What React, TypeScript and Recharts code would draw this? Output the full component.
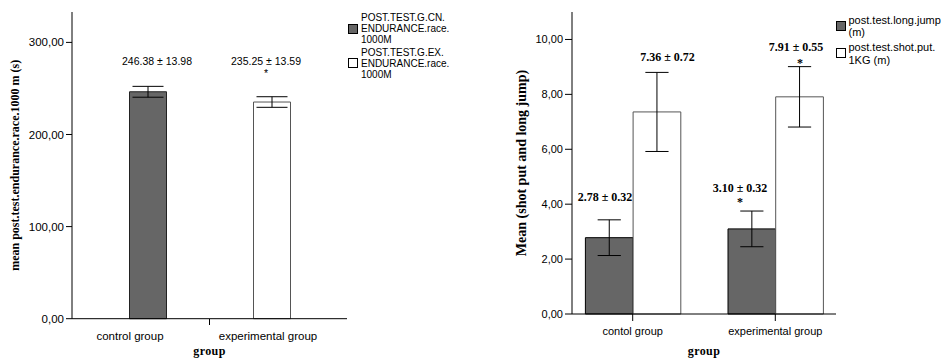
import React from 'react';
import { BarChart, Bar, XAxis, YAxis, ErrorBar, Cell, Legend, ReferenceDot } from 'recharts';

// ---------- data: left chart (1000 m endurance race) ----------
const enduranceGroups = ['control group', 'experimental group'];
const enduranceMeans = [246.38, 235.25];
const enduranceSDs = [13.98, 13.59];
const enduranceErrors = [5.9, 5.75];
const enduranceSignificant = [false, true];
const enduranceSeries = ['POST.TEST.G.CN.\nENDURANCE.race.\n1000M', 'POST.TEST.G.EX.\nENDURANCE.race.\n1000M'];
const enduranceTicks = [0, 100, 200, 300];
const enduranceYLabel = 'mean post.test.endurance.race.1000 m (s)';

// ---------- data: right chart (long jump & shot put) ----------
const jumpGroups = ['contol group', 'experimental group'];
const longJumpMeans = [2.78, 3.1];
const longJumpSDs = [0.32, 0.32];
const longJumpErrors = [0.65, 0.65];
const longJumpSignificant = [false, true];
const shotPutMeans = [7.36, 7.91];
const shotPutSDs = [0.72, 0.55];
const shotPutErrors = [1.44, 1.1];
const shotPutSignificant = [false, true];
const jumpSeries = ['post.test.long.jump\n(m)', 'post.test.shot.put.\n1KG (m)'];
const jumpTicks = [0, 2, 4, 6, 8, 10];
const jumpYLabel = 'Mean (shot put and long jump)';
const xTitle = 'group';

// ---------- styling ----------
const SANS = "'Liberation Sans', Arial, Helvetica, sans-serif";
const SERIF = "'Liberation Serif', 'Times New Roman', Times, serif";
const DARK = '#666666';
const WHITE = '#ffffff';
const WHITE_STROKE = '#555555';

// label anchor levels (data units) and horizontal nudges (px)
const enduranceLabelLevel = 280;
const enduranceStarLevel = 269.5;
const enduranceLabelDx = [9.5, -5.5];
const enduranceTickDx = [-17.5, -3.5];
const longJumpLabelLevel = [4.27, 4.6];
const longJumpStarLevel = 4.15;
const longJumpLabelDx = [-27.7, -35.3];
const shotPutLabelLevel = [9.39, 9.74];
const shotPutStarLevel = 9.2;
const shotPutLabelDx = [34.8, 20.7];
const shotPutStarDx = 24.7;

const fmtComma = (v: number) => v.toFixed(2).replace('.', ',');
const pm = (m: number, s: number) => `${m.toFixed(2)} ± ${s.toFixed(2)}`;

const enduranceData = enduranceGroups.map((g, i) => ({
  group: g,
  mean: enduranceMeans[i],
  err: enduranceErrors[i],
}));

const jumpData = jumpGroups.map((g, i) => ({
  group: g,
  longJump: longJumpMeans[i],
  longJumpErr: longJumpErrors[i],
  shotPut: shotPutMeans[i],
  shotPutErr: shotPutErrors[i],
}));

function makeAnnot(text: string, dx: number, fontSize: number, family: string, bold: boolean, baseShift: number) {
  return (props: any) => {
    const vb = props.viewBox || {};
    const cx = (vb.x ?? 0) + (vb.width ?? 0) / 2 + dx;
    const cy = (vb.y ?? 0) + (vb.height ?? 0) / 2;
    return (
      <text
        x={cx}
        y={cy + baseShift * fontSize}
        textAnchor="middle"
        fontSize={fontSize}
        fontFamily={family}
        fontWeight={bold ? 700 : 400}
        fill="#000"
      >
        {text}
      </text>
    );
  };
}

const LeftTick = (props: any) => {
  const { x, y, payload } = props;
  const i = props.index ?? payload?.index ?? 0;
  return (
    <g>
      <text
        x={x + enduranceTickDx[i]}
        y={y + 12.8}
        textAnchor="middle"
        fontSize={11.5}
        fontFamily={SANS}
        fill="#000"
      >
        {payload.value}
      </text>
      {i === 0 && <line x1={x + 62} x2={x + 62} y1={y - 7.7} y2={y - 1.7} stroke="#000" strokeWidth={1} />}
    </g>
  );
};

function EnduranceLegend() {
  const fills = [DARK, WHITE];
  const starts = [13, 47.5];
  const squares = [16.5, 50.5];
  return (
    <svg width={130} height={82} style={{ display: 'block' }}>
      {enduranceSeries.map((name, k) => (
        <g key={k}>
          <rect x={3.5} y={squares[k]} width={9} height={9} fill={fills[k]} stroke="#000" strokeWidth={1} />
          {name.split('\n').map((ln, j) => (
            <text key={j} x={16} y={starts[k] + j * 11.2} fontSize={10} fontFamily={SANS} fill="#000">
              {ln}
            </text>
          ))}
        </g>
      ))}
    </svg>
  );
}

function JumpLegend() {
  const fills = [DARK, WHITE];
  const starts = [15.5, 43];
  const squares = [13.5, 40.5];
  return (
    <svg width={115} height={70} style={{ display: 'block' }}>
      {jumpSeries.map((name, k) => (
        <g key={k}>
          <rect x={3.5} y={squares[k]} width={9} height={9} fill={fills[k]} stroke="#000" strokeWidth={1} />
          {name.split('\n').map((ln, j) => (
            <text key={j} x={15.5} y={starts[k] + j * 12.5} fontSize={11} fontFamily={SANS} fill="#000">
              {ln}
            </text>
          ))}
        </g>
      ))}
    </svg>
  );
}

function EnduranceChart() {
  return (
    <BarChart width={474} height={358} data={enduranceData} margin={{ top: 12, right: 127, left: 0, bottom: 0 }}>
      <XAxis
        dataKey="group"
        interval={0}
        padding={{ left: 13.5, right: 13.5 }}
        height={39.3}
        axisLine={{ stroke: '#000', strokeWidth: 1 }}
        tickLine={false}
        tick={<LeftTick />}
        label={{
          value: xTitle,
          position: 'insideBottom',
          offset: 3,
          style: { fontFamily: SERIF, fontWeight: 700, fontSize: 12, fill: '#000', letterSpacing: 0.4 },
        }}
      />
      <YAxis
        domain={[0, 333]}
        ticks={enduranceTicks}
        width={72}
        tickFormatter={fmtComma}
        tickSize={6}
        tickMargin={2}
        axisLine={{ stroke: '#000', strokeWidth: 1 }}
        tickLine={{ stroke: '#000', strokeWidth: 1 }}
        tick={{ fontSize: 11.5, fontFamily: SANS, fill: '#000' }}
        label={{
          value: enduranceYLabel,
          angle: -90,
          position: 'insideLeft',
          offset: 15,
          style: { textAnchor: 'middle', fontFamily: SERIF, fontWeight: 700, fontSize: 12, fill: '#000' },
        }}
      />
      <Bar dataKey="mean" barSize={37} isAnimationActive={false} strokeWidth={1}>
        {enduranceData.map((_, i) => (
          <Cell key={i} fill={i === 0 ? DARK : WHITE} stroke={i === 0 ? '#222' : WHITE_STROKE} />
        ))}
        <ErrorBar dataKey="err" width={15.5} stroke="#000" strokeWidth={1} />
      </Bar>
      {enduranceGroups.map((g, i) => (
        <ReferenceDot
          key={'a' + i}
          x={g}
          y={enduranceLabelLevel}
          r={0}
          fill="none"
          stroke="none"
          label={{ content: makeAnnot(pm(enduranceMeans[i], enduranceSDs[i]), enduranceLabelDx[i], 10.5, SANS, false, 0.36) }}
        />
      ))}
      {enduranceGroups.map((g, i) =>
        enduranceSignificant[i] ? (
          <ReferenceDot
            key={'s' + i}
            x={g}
            y={enduranceStarLevel}
            r={0}
            fill="none"
            stroke="none"
            label={{ content: makeAnnot('*', enduranceLabelDx[i], 10.5, SANS, false, 0.58) }}
          />
        ) : null
      )}
      <Legend
        layout="vertical"
        align="center"
        verticalAlign="middle"
        wrapperStyle={{ left: 345, top: 8, width: 130, height: 82 }}
        content={() => <EnduranceLegend />}
      />
    </BarChart>
  );
}

function JumpChart() {
  return (
    <BarChart
      width={474}
      height={358}
      data={jumpData}
      barGap={0}
      margin={{ top: 12, right: 112, left: 0, bottom: 0 }}
    >
      <XAxis
        dataKey="group"
        interval={0}
        padding={{ left: -10.6, right: -10.6 }}
        height={44}
        axisLine={{ stroke: '#000', strokeWidth: 1 }}
        tickLine={{ stroke: '#000', strokeWidth: 1 }}
        tickSize={7}
        tickMargin={6}
        tick={{ fontSize: 11, fontFamily: SANS, fill: '#000' }}
        label={{
          value: xTitle,
          position: 'insideBottom',
          offset: 3,
          style: { fontFamily: SERIF, fontWeight: 700, fontSize: 12, fill: '#000', letterSpacing: 0.4 },
        }}
      />
      <YAxis
        domain={[0, 11]}
        ticks={jumpTicks}
        width={98}
        tickFormatter={fmtComma}
        tickSize={7}
        tickMargin={2}
        axisLine={{ stroke: '#000', strokeWidth: 1 }}
        tickLine={{ stroke: '#000', strokeWidth: 1 }}
        tick={{ fontSize: 11, fontFamily: SANS, fill: '#000' }}
        label={{
          value: jumpYLabel,
          angle: -90,
          position: 'insideLeft',
          offset: 47,
          style: { textAnchor: 'middle', fontFamily: SERIF, fontWeight: 700, fontSize: 14, fill: '#000' },
        }}
      />
      <Bar dataKey="longJump" barSize={47.7} fill={DARK} stroke="#000" strokeWidth={1} isAnimationActive={false}>
        <ErrorBar dataKey="longJumpErr" width={11.6} stroke="#000" strokeWidth={1} />
      </Bar>
      <Bar dataKey="shotPut" barSize={47.7} fill={WHITE} stroke={WHITE_STROKE} strokeWidth={1} isAnimationActive={false}>
        <ErrorBar dataKey="shotPutErr" width={11.6} stroke="#000" strokeWidth={1} />
      </Bar>
      {jumpGroups.map((g, i) => (
        <ReferenceDot
          key={'lj' + i}
          x={g}
          y={longJumpLabelLevel[i]}
          r={0}
          fill="none"
          stroke="none"
          label={{ content: makeAnnot(pm(longJumpMeans[i], longJumpSDs[i]), longJumpLabelDx[i], 12, SERIF, true, 0.36) }}
        />
      ))}
      {jumpGroups.map((g, i) => (
        <ReferenceDot
          key={'sp' + i}
          x={g}
          y={shotPutLabelLevel[i]}
          r={0}
          fill="none"
          stroke="none"
          label={{ content: makeAnnot(pm(shotPutMeans[i], shotPutSDs[i]), shotPutLabelDx[i], 12, SERIF, true, 0.36) }}
        />
      ))}
      {jumpGroups.map((g, i) =>
        longJumpSignificant[i] ? (
          <ReferenceDot
            key={'ljs' + i}
            x={g}
            y={longJumpStarLevel}
            r={0}
            fill="none"
            stroke="none"
            label={{ content: makeAnnot('*', longJumpLabelDx[i], 12, SERIF, true, 0.5) }}
          />
        ) : null
      )}
      {jumpGroups.map((g, i) =>
        shotPutSignificant[i] ? (
          <ReferenceDot
            key={'sps' + i}
            x={g}
            y={shotPutStarLevel}
            r={0}
            fill="none"
            stroke="none"
            label={{ content: makeAnnot('*', shotPutStarDx, 12, SERIF, true, 0.5) }}
          />
        ) : null
      )}
      <Legend
        layout="vertical"
        align="center"
        verticalAlign="middle"
        wrapperStyle={{ left: 359, top: 8, width: 115, height: 70 }}
        content={() => <JumpLegend />}
      />
    </BarChart>
  );
}

export default function App() {
  return (
    <div
      style={{
        position: 'absolute',
        left: 0,
        top: 0,
        width: 948,
        height: 358,
        background: '#fff',
        overflow: 'hidden',
      }}
    >
      <div style={{ position: 'absolute', left: 0, top: 0 }}>
        <EnduranceChart />
      </div>
      <div style={{ position: 'absolute', left: 474, top: 0 }}>
        <JumpChart />
      </div>
    </div>
  );
}
